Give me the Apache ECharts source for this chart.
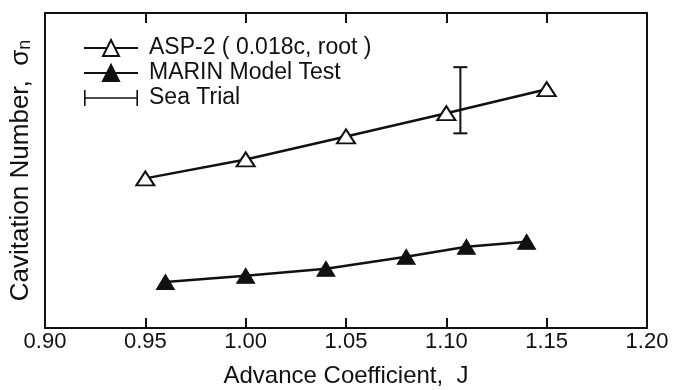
<!DOCTYPE html>
<html>
<head>
<meta charset="utf-8">
<script src="https://cdn.jsdelivr.net/npm/echarts@6/dist/echarts.min.js"></script>
<style>html,body{margin:0;padding:0;background:#fff}#c{width:679px;height:390px}</style>
</head>
<body>
<div id="c"></div>
<script>
// Data (y scale is arbitrary: the reference shows no y tick labels)
const xTicks = [0.90, 0.95, 1.00, 1.05, 1.10, 1.15, 1.20];
const asp2J = [0.95, 1.00, 1.05, 1.10, 1.15];
const asp2Sigma = [0.475, 0.535, 0.608, 0.682, 0.758];
const marinJ = [0.96, 1.00, 1.04, 1.08, 1.11, 1.14];
const marinSigma = [0.146, 0.166, 0.188, 0.226, 0.258, 0.274];
const seaTrialJ = [1.107];
const seaTrialLow = [0.618];
const seaTrialHigh = [0.828];

const names = ['ASP-2 ( 0.018c, root )', 'MARIN Model Test', 'Sea Trial'];
const ink = '#111';
const font = 'Liberation Sans, Arial, Helvetica, sans-serif';

const chart = echarts.init(document.getElementById('c'), null, {renderer: 'canvas'});
const option = {
  animation: false,
  backgroundColor: '#fff',
  grid: {left: 45, right: 32, top: 13, bottom: 62, containLabel: false, outerBoundsMode: 'none'},
  legend: {
    orient: 'vertical',
    left: 78, top: 31,
    itemWidth: 54, itemHeight: 20, itemGap: 1,
    symbolKeepAspect: true,
    textStyle: {color: ink, fontSize: 23, fontFamily: font, lineHeight: 24, padding: [0, 0, 0, 6]},
    data: [
      {name: names[0]},
      {name: names[1]},
      {name: names[2], icon: 'path://M0,0h1.6v16h-1.6z M0,7.2h54v1.6h-54z M52.4,0h1.6v16h-1.6z', itemStyle: {color: ink}}
    ]
  },
  xAxis: [{
    type: 'value', min: 0.90, max: 1.20, interval: 0.05,
    name: 'Advance Coefficient,  J', nameLocation: 'middle', nameGap: 36,
    nameTextStyle: {color: ink, fontSize: 24, fontFamily: font},
    axisLine: {show: true, onZero: false, lineStyle: {color: ink, width: 2}},
    axisTick: {show: true, inside: true, length: 10, lineStyle: {color: ink, width: 2}},
    axisLabel: {color: ink, fontSize: 22, fontFamily: font, margin: 3,
      formatter: v => xTicks.find(t => Math.abs(t - v) < 1e-9).toFixed(2)},
    splitLine: {show: false}
  }, {
    type: 'value', position: 'top', min: 0.90, max: 1.20, interval: 0.05,
    axisLine: {show: true, onZero: false, lineStyle: {color: ink, width: 2}},
    axisTick: {show: true, inside: true, length: 10, lineStyle: {color: ink, width: 2}},
    axisLabel: {show: false}, splitLine: {show: false}
  }],
  yAxis: [{
    type: 'value', min: 0, max: 1,
    name: 'Cavitation Number,  σ{sub|n}', nameLocation: 'middle', nameGap: 11,
    nameTextStyle: {color: ink, fontSize: 26, fontFamily: font,
      rich: {sub: {fontSize: 18, fontFamily: font, color: ink, verticalAlign: 'bottom', padding: [9, 0, 0, 0]}}},
    axisLine: {show: true, onZero: false, lineStyle: {color: ink, width: 2}},
    axisTick: {show: false}, axisLabel: {show: false}, splitLine: {show: false}
  }, {
    type: 'value', position: 'right', min: 0, max: 1,
    axisLine: {show: true, onZero: false, lineStyle: {color: ink, width: 2}},
    axisTick: {show: false}, axisLabel: {show: false}, splitLine: {show: false}
  }],
  series: [{
    name: names[0], type: 'line',
    data: asp2J.map((x, i) => [x, asp2Sigma[i]]),
    symbol: 'triangle', symbolSize: [18, 14],
    lineStyle: {color: ink, width: 2.5},
    itemStyle: {color: '#fff', borderColor: ink, borderWidth: 2},
    z: 3
  }, {
    name: names[1], type: 'line',
    data: marinJ.map((x, i) => [x, marinSigma[i]]),
    symbol: 'triangle', symbolSize: [18, 15],
    lineStyle: {color: ink, width: 2.5},
    itemStyle: {color: ink, borderColor: ink, borderWidth: 1},
    z: 3
  }, {
    name: names[2], type: 'custom',
    data: seaTrialJ.map((x, i) => [x, seaTrialLow[i], seaTrialHigh[i]]),
    itemStyle: {color: ink},
    renderItem: function (params, api) {
      const lo = api.coord([api.value(0), api.value(1)]);
      const hi = api.coord([api.value(0), api.value(2)]);
      const w = 7;
      const st = {stroke: ink, lineWidth: 2};
      return {type: 'group', children: [
        {type: 'line', shape: {x1: lo[0], y1: lo[1], x2: hi[0], y2: hi[1]}, style: st},
        {type: 'line', shape: {x1: lo[0] - w, y1: lo[1], x2: lo[0] + w, y2: lo[1]}, style: st},
        {type: 'line', shape: {x1: hi[0] - w, y1: hi[1], x2: hi[0] + w, y2: hi[1]}, style: st}
      ]};
    },
    z: 4
  }]
};
chart.setOption(option);
</script>
</body>
</html>
